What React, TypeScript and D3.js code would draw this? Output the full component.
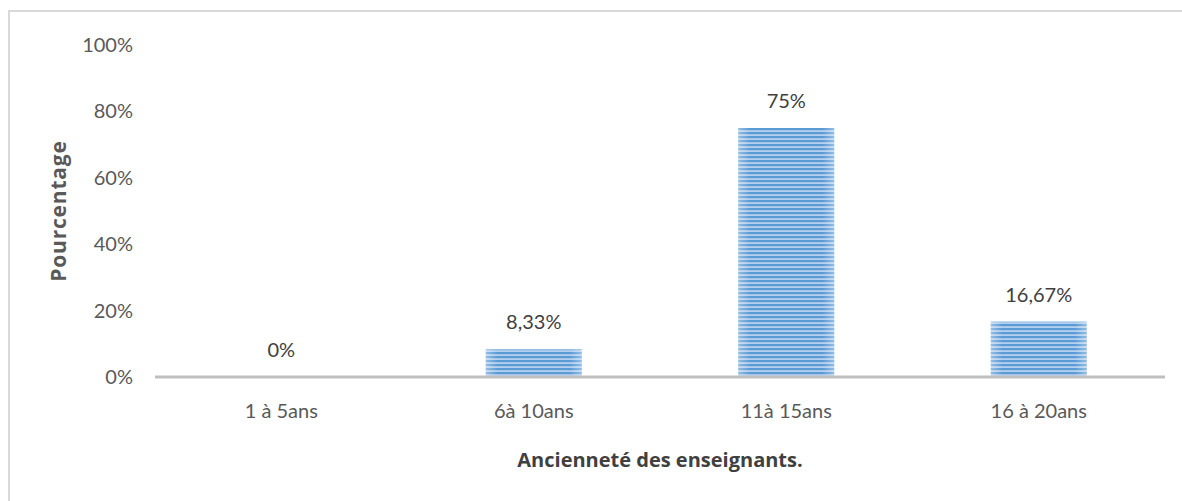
import React from "react";
import * as d3 from "d3";

const categories = ["1 à 5ans", "6à 10ans", "11à 15ans", "16 à 20ans"];
const values = [0, 8.33, 75, 16.67];
const valueLabels = ["0%", "8,33%", "75%", "16,67%"];
const yTicks = [0, 20, 40, 60, 80, 100];

export default function App() {
  const W = 1182, H = 501;
  const left = 155, right = 1165, top = 45, bottom = 377;
  const x = d3.scaleBand<string>().domain(categories).range([left, right]).paddingInner(0.62).paddingOuter(0.31);
  const y = d3.scaleLinear().domain([0, 100]).range([bottom, top]);
  const font = "Lato, 'Open Sans', sans-serif";
  const boldFont = "'Open Sans', Lato, sans-serif";
  return (
    <svg width={W} height={H} style={{ position: "absolute", left: 0, top: 0 }}>
      <defs>
        <pattern id="stripes" patternUnits="userSpaceOnUse" width="8" height="4">
          <rect width="8" height="4" fill="#b4d0ee" />
          <rect width="8" height="2.2" fill="#5b9bd5" />
        </pattern>
        <linearGradient id="edge" x1="0" x2="1" y1="0" y2="0">
          <stop offset="0" stopColor="#ffffff" stopOpacity="0.35" />
          <stop offset="0.12" stopColor="#ffffff" stopOpacity="0" />
          <stop offset="0.88" stopColor="#ffffff" stopOpacity="0" />
          <stop offset="1" stopColor="#ffffff" stopOpacity="0.35" />
        </linearGradient>
      </defs>
      <rect x={0} y={0} width={W} height={H} fill="#fff" />
      <line x1={9} x2={9} y1={11} y2={H} stroke="#d9d9d9" strokeWidth={2} />
      <line x1={8} x2={W} y1={11} y2={11} stroke="#d9d9d9" strokeWidth={2} />
      {yTicks.map((t) => (
        <text key={t} x={133} y={y(t)} dy="0.35em" textAnchor="end" fontFamily={font} fontSize={20} fill="#595959">
          {t}%
        </text>
      ))}
      {categories.map((c, i) => (
        <g key={c}>
          {values[i] > 0 && (
            <>
              <rect x={x(c)} y={y(values[i])} width={x.bandwidth()} height={bottom - y(values[i])} fill="url(#stripes)" />
              <rect x={x(c)} y={y(values[i])} width={x.bandwidth()} height={bottom - y(values[i])} fill="url(#edge)" />
            </>
          )}
          <text x={(x(c) as number) + x.bandwidth() / 2} y={y(values[i]) - 27} dy="0.35em" textAnchor="middle" fontFamily={font} fontSize={20} fill="#404040">
            {valueLabels[i]}
          </text>
          <text x={(x(c) as number) + x.bandwidth() / 2} y={411} dy="0.35em" textAnchor="middle" fontFamily={font} fontSize={20} fill="#595959">
            {c}
          </text>
        </g>
      ))}
      <line x1={left} x2={right} y1={bottom} y2={bottom} stroke="#bfbfbf" strokeWidth={3} />
      <text transform={`translate(59,${(top + bottom) / 2}) rotate(-90)`} dy="0.35em" textAnchor="middle" fontFamily={boldFont} fontWeight="bold" fontSize={21} letterSpacing={0.8} fill="#595959">
        Pourcentage
      </text>
      <text x={660} y={460} dy="0.35em" textAnchor="middle" fontFamily={boldFont} fontWeight="bold" fontSize={20} fill="#404040">
        Ancienneté des enseignants.
      </text>
    </svg>
  );
}
